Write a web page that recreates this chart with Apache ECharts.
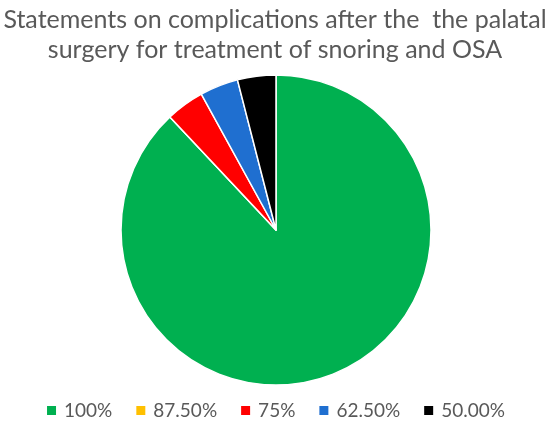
<!DOCTYPE html>
<html>
<head>
<meta charset="utf-8">
<script src="https://cdn.jsdelivr.net/npm/echarts@6/dist/echarts.min.js"></script>
<style>
  html, body { margin: 0; padding: 0; background: #fff; }
  #chart { width: 550px; height: 427px; }
</style>
</head>
<body>
<div id="chart"></div>
<script>
const categories = ['100%', '87.50%', '75%', '62.50%', '50.00%']
const counts = [22, 0, 1, 1, 1]
const colors = ['#00B050', '#FFC000', '#FF0000', '#1F6FD0', '#000000']

const chart = echarts.init(document.getElementById('chart'))
chart.setOption({
  animation: false,
  title: {
    text: 'Statements on complications after the  the palatal\nsurgery for treatment of snoring and OSA',
    left: 'center',
    top: 0,
    textStyle: {
      fontFamily: 'Lato',
      fontWeight: 'normal',
      fontSize: 25,
      lineHeight: 30,
      color: '#595959'
    }
  },
  legend: {
    bottom: 2,
    left: 'center',
    icon: 'rect',
    itemWidth: 11,
    itemHeight: 11,
    itemGap: 22,
    data: categories,
    textStyle: {
      fontFamily: 'Lato',
      fontSize: 19,
      color: '#595959',
      padding: [0, 0, 0, 2]
    }
  },
  color: colors,
  series: [{
    type: 'pie',
    center: [276, 230],
    radius: 155,
    startAngle: 90,
    clockwise: true,
    label: { show: false },
    labelLine: { show: false },
    emphasis: { disabled: true },
    itemStyle: { borderColor: '#fff', borderWidth: 1.5 },
    data: categories.map((name, i) => ({ name, value: counts[i] }))
  }]
})
</script>
</body>
</html>
